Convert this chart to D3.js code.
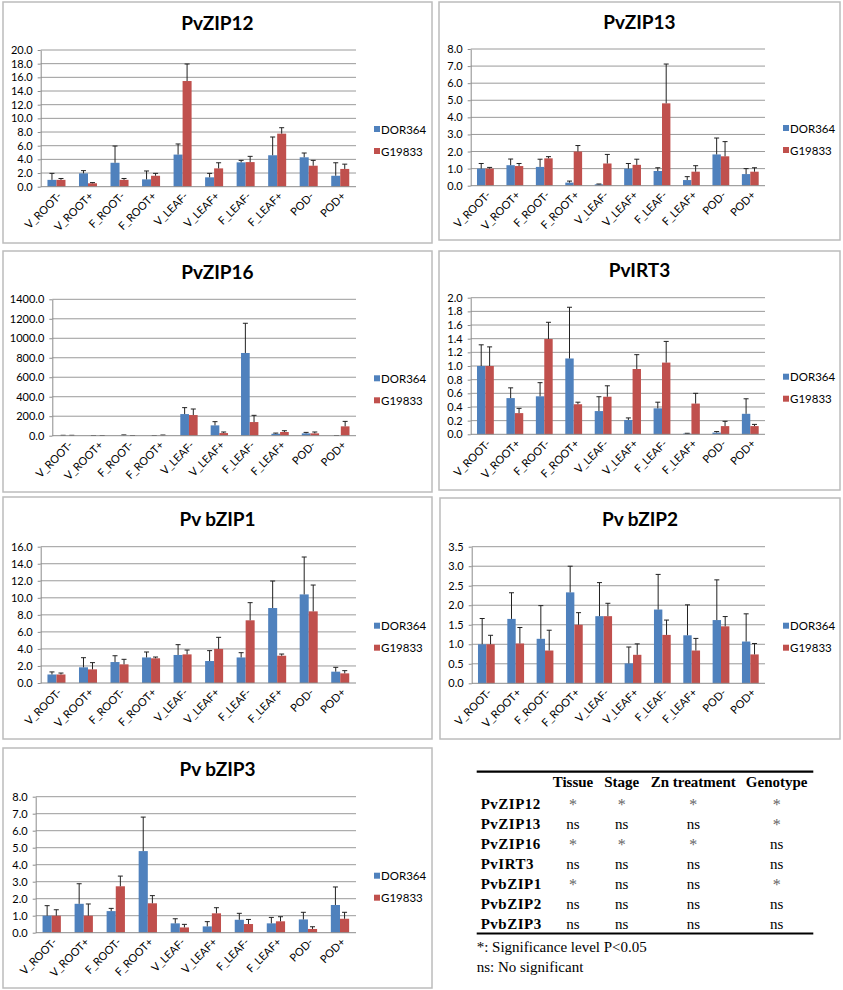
<!DOCTYPE html>
<html>
<head>
<meta charset="utf-8">
<script src="https://cdn.jsdelivr.net/npm/d3@7"></script>
<style>
  body { margin: 0; background: #fff; }
  svg text { font-family: Lato, "Open Sans", sans-serif; }
  .tbl text { font-family: "Liberation Serif", "DejaVu Serif", serif; }
</style>
</head>
<body>
<svg id="fig" width="843" height="990"></svg>
<script>
// ---- data ------------------------------------------------------
var categories = ["V_ROOT-", "V_ROOT+", "F_ROOT-", "F_ROOT+", "V_LEAF-", "V_LEAF+", "F_LEAF-", "F_LEAF+", "POD-", "POD+"];
var seriesNames = ["DOR364", "G19833"];
var titles = ["PvZIP12", "PvZIP13", "PvZIP16", "PvIRT3", "Pv bZIP1", "Pv bZIP2", "Pv bZIP3"];
var yMax = [20, 8, 1400, 2, 16, 3.5, 8];
var yStep = [2, 1, 200, 0.2, 2, 0.5, 1];

var zip12Dor = [1.0, 1.95, 3.5, 1.07, 4.7, 1.37, 3.56, 4.6, 4.3, 1.6];
var zip12DorErr = [0.95, 0.4, 2.45, 1.23, 1.55, 0.58, 0.29, 2.67, 0.63, 1.9];
var zip12G = [1.0, 0.5, 1.0, 1.6, 15.46, 2.68, 3.6, 7.76, 3.07, 2.6];
var zip12GErr = [0.2, 0.1, 0.2, 0.35, 2.49, 0.82, 0.84, 0.87, 0.78, 0.7];

var zip13Dor = [1.0, 1.2, 1.1, 0.18, 0.08, 1.0, 0.86, 0.33, 1.83, 0.68];
var zip13DorErr = [0.3, 0.36, 0.45, 0.09, 0.02, 0.3, 0.19, 0.2, 0.96, 0.32];
var zip13G = [1.0, 1.15, 1.6, 2.0, 1.3, 1.22, 4.82, 0.82, 1.72, 0.82];
var zip13GErr = [0.07, 0.15, 0.1, 0.35, 0.53, 0.33, 2.3, 0.35, 0.86, 0.23];

var zip16Dor = [1, 1, 2, 1, 222, 106, 849, 20, 24, 1];
var zip16DorErr = [3, 1, 6, 1, 66, 38, 305, 7, 10, 1];
var zip16G = [1, 1, 1, 2, 212, 27, 140, 38, 24, 96];
var zip16GErr = [3, 1, 1, 5, 62, 11, 69, 13, 14, 51];

var irt3Dor = [1.0, 0.53, 0.556, 1.11, 0.34, 0.21, 0.38, 0.01, 0.025, 0.3];
var irt3DorErr = [0.31, 0.15, 0.2, 0.75, 0.21, 0.03, 0.09, 0.005, 0.015, 0.22];
var irt3G = [1.0, 0.31, 1.395, 0.44, 0.55, 0.956, 1.05, 0.45, 0.12, 0.12];
var irt3GErr = [0.28, 0.07, 0.245, 0.03, 0.16, 0.21, 0.31, 0.15, 0.07, 0.025];

var bzip1Dor = [1.0, 1.84, 2.46, 3.0, 3.29, 2.58, 3.0, 8.8, 10.4, 1.33];
var bzip1DorErr = [0.3, 1.13, 0.74, 0.64, 1.21, 1.22, 0.56, 3.17, 4.39, 0.51];
var bzip1G = [1.0, 1.6, 2.19, 2.9, 3.36, 4.0, 7.36, 3.2, 8.41, 1.13];
var bzip1GErr = [0.17, 0.79, 0.59, 0.15, 0.51, 1.36, 2.07, 0.2, 3.09, 0.32];

var bzip2Dor = [1.0, 1.65, 1.14, 2.33, 1.72, 0.51, 1.89, 1.23, 1.62, 1.07];
var bzip2DorErr = [0.66, 0.67, 0.85, 0.67, 0.86, 0.42, 0.9, 0.78, 1.03, 0.71];
var bzip2G = [1.0, 1.02, 0.84, 1.5, 1.72, 0.73, 1.24, 0.84, 1.46, 0.74];
var bzip2GErr = [0.23, 0.41, 0.52, 0.31, 0.33, 0.28, 0.38, 0.31, 0.25, 0.28];

var bzip3Dor = [1.0, 1.7, 1.27, 4.8, 0.55, 0.37, 0.76, 0.55, 0.78, 1.63];
var bzip3DorErr = [0.59, 1.18, 0.16, 2.0, 0.27, 0.28, 0.38, 0.35, 0.42, 1.06];
var bzip3G = [1.0, 1.0, 2.73, 1.73, 0.31, 1.14, 0.51, 0.67, 0.22, 0.82];
var bzip3GErr = [0.35, 0.69, 0.6, 0.45, 0.18, 0.33, 0.27, 0.27, 0.13, 0.38];

// significance table
var tableGenes = ["PvZIP12", "PvZIP13", "PvZIP16", "PvIRT3", "PvbZIP1", "PvbZIP2", "PvbZIP3"];
var tableFactors = ["Tissue", "Stage", "Zn treatment", "Genotype"];
var tableTissue = ["*", "ns", "*", "ns", "*", "ns", "ns"];
var tableStage = ["*", "ns", "*", "ns", "ns", "ns", "ns"];
var tableZn = ["*", "ns", "*", "ns", "ns", "ns", "ns"];
var tableGenotype = ["*", "*", "ns", "ns", "*", "ns", "ns"];
var footnotes = ["*: Significance level P<0.05", "ns: No significant"];

// ---- layout ----------------------------------------------------
var values = [
  [zip12Dor, zip12DorErr, zip12G, zip12GErr],
  [zip13Dor, zip13DorErr, zip13G, zip13GErr],
  [zip16Dor, zip16DorErr, zip16G, zip16GErr],
  [irt3Dor, irt3DorErr, irt3G, irt3GErr],
  [bzip1Dor, bzip1DorErr, bzip1G, bzip1GErr],
  [bzip2Dor, bzip2DorErr, bzip2G, bzip2GErr],
  [bzip3Dor, bzip3DorErr, bzip3G, bzip3GErr]
];

var layout = [
  {box: [3, 2, 432, 243],   left: 40.7,  right: 356, top: 50,    bottom: 186.7},
  {box: [439, 2, 840, 240], left: 470.7, right: 765, top: 49,    bottom: 185.7},
  {box: [3, 251, 432, 492], left: 52.3,  right: 356, top: 299.3, bottom: 435.7},
  {box: [439, 251, 840, 490], left: 470.7, right: 765, top: 297.7, bottom: 434.3},
  {box: [3, 497, 432, 739], left: 40.7,  right: 356, top: 546.7, bottom: 683},
  {box: [440, 498, 840, 739], left: 471.7, right: 765, top: 546.7, bottom: 683.3},
  {box: [3, 748, 432, 988], left: 35.7,  right: 356, top: 796.7, bottom: 932.7}
];

var colors = ["#4F81BD", "#C0504D"];

var svg = d3.select("#fig");

layout.forEach(function(L, i) {
  var g = svg.append("g");

  // panel frame
  g.append("rect")
    .attr("x", L.box[0]).attr("y", L.box[1])
    .attr("width", L.box[2] - L.box[0]).attr("height", L.box[3] - L.box[1])
    .attr("fill", "#fff").attr("stroke", "#bcbcbc").attr("stroke-width", 1.5);

  // title
  g.append("text")
    .attr("x", (L.box[0] + L.box[2]) / 2)
    .attr("y", L.top - 20.5)
    .attr("text-anchor", "middle")
    .style("font-size", "19px").style("font-weight", "bold")
    .text(titles[i]);

  var x0 = d3.scaleBand().domain(categories).range([L.left, L.right]).padding(0);
  var x1 = d3.scaleBand().domain(seriesNames).range([0, x0.bandwidth()])
    .paddingInner(0).paddingOuter(0.75);
  var y = d3.scaleLinear().domain([0, yMax[i]]).range([L.bottom, L.top]);
  var ticks = d3.range(0, yMax[i] + yStep[i] / 2, yStep[i]);

  // gridlines
  g.append("g").selectAll("line").data(ticks.slice(1)).enter().append("line")
    .attr("x1", L.left).attr("x2", L.right)
    .attr("y1", d => y(d)).attr("y2", d => y(d))
    .attr("stroke", "#9a9a9a").attr("stroke-width", 1);

  // y axis
  var yAxis = d3.axisLeft(y).tickValues(ticks).tickFormat(d3.format(".1f"))
    .tickSize(3).tickSizeOuter(0);
  var ya = g.append("g").attr("transform", `translate(${L.left},0)`).call(yAxis);
  ya.select(".domain").attr("stroke", "#8c8c8c");
  ya.selectAll(".tick line").attr("stroke", "#8c8c8c");
  ya.selectAll("text").style("font-size", "11px").attr("fill", "#000")
    .attr("x", -8);

  // bars
  var rows = categories.map(function(c, k) {
    return seriesNames.map(function(s, j) {
      return {cat: c, series: s, j: j, v: values[i][j * 2][k], e: values[i][j * 2 + 1][k]};
    });
  });
  var cg = g.append("g").selectAll("g").data(rows).enter().append("g")
    .attr("transform", (d, k) => `translate(${x0(categories[k])},0)`);

  cg.selectAll("rect").data(d => d).enter().append("rect")
    .attr("x", d => x1(d.series))
    .attr("width", x1.bandwidth())
    .attr("y", d => y(d.v))
    .attr("height", d => y(0) - y(d.v))
    .attr("fill", d => colors[d.j]);

  // error bars (upper only, capped)
  var eb = cg.selectAll(".err").data(d => d).enter().append("g").attr("class", "err");
  eb.append("line")
    .attr("x1", d => x1(d.series) + x1.bandwidth() / 2)
    .attr("x2", d => x1(d.series) + x1.bandwidth() / 2)
    .attr("y1", d => y(d.v)).attr("y2", d => y(d.v + d.e))
    .attr("stroke", "#222").attr("stroke-width", 1);
  eb.append("line")
    .attr("x1", d => x1(d.series) + x1.bandwidth() / 2 - 2.5)
    .attr("x2", d => x1(d.series) + x1.bandwidth() / 2 + 2.5)
    .attr("y1", d => y(d.v + d.e)).attr("y2", d => y(d.v + d.e))
    .attr("stroke", "#222").attr("stroke-width", 1);

  // x axis
  g.append("line")
    .attr("x1", L.left).attr("x2", L.right)
    .attr("y1", y(0)).attr("y2", y(0))
    .attr("stroke", "#8c8c8c");

  g.append("g").selectAll("text").data(categories).enter().append("text")
    .attr("transform", d => `translate(${x0(d) + x0.bandwidth() / 2 + 6},${y(0) + 10}) rotate(-45)`)
    .attr("text-anchor", "end")
    .style("font-size", "11px")
    .text(d => d);

  // legend
  var lg = g.append("g").selectAll("g").data(seriesNames).enter().append("g")
    .attr("transform", (d, j) => `translate(${L.right + 18},${L.top + 79 + j * 22})`);
  lg.append("rect").attr("x", 0).attr("y", -3).attr("width", 6).attr("height", 6)
    .attr("fill", (d, j) => colors[j]);
  lg.append("text").attr("x", 7).attr("y", 4.5)
    .style("font-size", "11.5px")
    .text(d => d);
});

// ---- significance table ----------------------------------------
var tbl = svg.append("g").attr("class", "tbl");
var tblLeft = 476.7, tblRight = 813.3;
var colX = [573, 621.7, 693.3, 776.7];
var cols = [tableTissue, tableStage, tableZn, tableGenotype];

tbl.append("line").attr("x1", tblLeft).attr("x2", tblRight)
  .attr("y1", 771.7).attr("y2", 771.7).attr("stroke", "#000").attr("stroke-width", 2.2);
tbl.append("line").attr("x1", tblLeft).attr("x2", tblRight)
  .attr("y1", 933.5).attr("y2", 933.5).attr("stroke", "#000").attr("stroke-width", 2.2);

tbl.selectAll(".hdr").data(tableFactors).enter().append("text")
  .attr("x", (d, k) => colX[k]).attr("y", 787.3)
  .attr("text-anchor", "middle")
  .style("font-size", "15px").style("font-weight", "bold")
  .text(d => d);

tableGenes.forEach(function(gname, r) {
  var yy = 809.3 + r * 19.95;
  tbl.append("text").attr("x", 480.7).attr("y", yy)
    .style("font-size", "15px").style("font-weight", "bold")
    .style("letter-spacing", "0.5px")
    .text(gname);
  cols.forEach(function(col, k) {
    var star = col[r] == "*";
    tbl.append("text").attr("x", colX[k]).attr("y", star ? yy + 1 : yy)
      .attr("text-anchor", "middle")
      .attr("fill", star ? "#666" : "#000")
      .style("font-size", star ? "16px" : "15px")
      .text(col[r]);
  });
});

tbl.selectAll(".foot").data(footnotes).enter().append("text")
  .attr("x", 476.7).attr("y", (d, k) => 951.7 + k * 20)
  .style("font-size", "15px")
  .text(d => d);
</script>
</body>
</html>
